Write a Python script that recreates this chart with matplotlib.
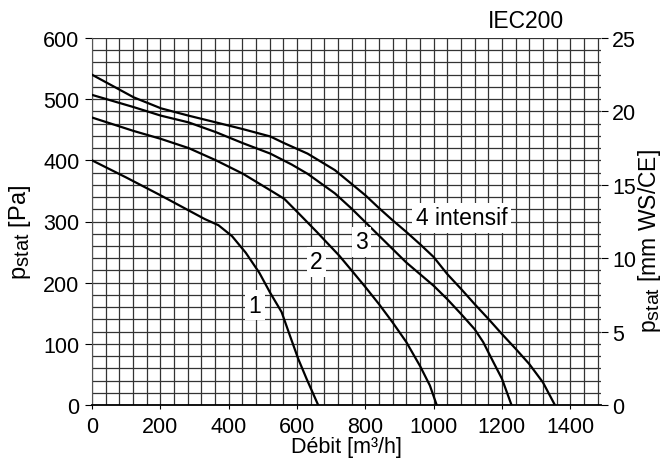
import matplotlib
matplotlib.use("Agg")
import matplotlib.pyplot as plt
import matplotlib._mathtext as mathtext_mod
import numpy as np

plt.rcParams.update({'font.family': ['Liberation Sans', 'DejaVu Sans'],
                     'font.size': 15.5,
                     'mathtext.fontset': 'custom',
                     'mathtext.rm': 'Liberation Sans',
                     'mathtext.it': 'Liberation Sans:italic'})
# the subscripts in the original are only slightly smaller than the text
mathtext_mod.SHRINK_FACTOR = 0.85

# curve points: flow [m3/h], static pressure [Pa]
x1 = [0, 100, 200, 280, 330, 370, 410, 450, 490, 521, 555, 579, 604, 628, 662]
y1 = [400, 372, 343, 319, 304, 294, 276, 249, 216, 184, 152, 114, 75, 43, 0]

x2 = [0, 122, 202, 283, 363, 442, 522, 563, 609, 658, 724, 760, 800, 840, 880, 920, 960, 989, 1009]
y2 = [470, 448, 435, 420, 400, 378, 351, 337, 311, 283, 244, 220, 193, 165, 135, 103, 64, 32, 0]

x3 = [0, 122, 202, 283, 363, 442, 522, 585, 631, 711, 760, 800, 840, 880, 920, 960, 1000,
      1040, 1080, 1120, 1145, 1175, 1200, 1228]
y3 = [507, 487, 473, 462, 446, 428, 411, 393, 378, 346, 321, 299, 277, 255, 233, 214, 195,
      173, 149, 124, 103, 70, 43, 0]

x4 = [0, 122, 202, 283, 363, 442, 522, 563, 631, 711, 800, 840, 880, 920, 960, 1000, 1040,
      1080, 1120, 1160, 1200, 1240, 1280, 1320, 1355]
y4 = [540, 503, 485, 473, 462, 451, 439, 428, 411, 384, 343, 322, 302, 283, 263, 242, 214,
      190, 165, 141, 116, 92, 67, 37, 0]

labels = ["1", "2", "3", "4 intensif"]
label_x = [477, 657, 789, 1082]
label_y = [163, 234, 267, 306]

xticks = [0, 200, 400, 600, 800, 1000, 1200, 1400]
yticks = [0, 100, 200, 300, 400, 500, 600]
yticks_mm = [0, 5, 10, 15, 20, 25]

fig = plt.figure(figsize=(6.64, 4.64), dpi=100)
ax = fig.add_axes([92/664, 58/464, (601-92)/664, (406-39)/464])

for xs, ys in [(x1, y1), (x2, y2), (x3, y3), (x4, y4)]:
    ax.plot(xs, ys, color='black', lw=1.6, zorder=3)

for t, lx, ly in zip(labels, label_x, label_y):
    ax.text(lx, ly, t, ha='center', va='center', fontsize=16.5, zorder=4,
            bbox=dict(fc='white', ec='none', pad=2.5))

ax.set_xlim(0, 1490)
ax.set_ylim(0, 600)
ax.set_xticks(xticks)
ax.set_yticks(yticks)
ax.set_xticks(np.arange(0, 1490, 40), minor=True)
ax.set_yticks(np.arange(0, 601, 20), minor=True)
ax.grid(which='both', color='#333333', lw=0.9)
ax.set_axisbelow(True)
ax.tick_params(which='minor', length=0)
ax.tick_params(axis='x', which='major', length=3, direction='out', pad=5)
ax.tick_params(axis='y', which='major', length=5, direction='out', pad=4)
for s in ['top', 'right']:
    ax.spines[s].set_visible(False)
ax.spines['left'].set_color('#555555')
ax.spines['bottom'].set_linewidth(1.3)

ax.set_xlabel('Débit [m³/h]')
ax.xaxis.set_label_coords(0.5, -0.085)
ax.set_ylabel(r'p$_{\mathrm{stat}}$ [Pa]', fontsize=17)
ax.yaxis.set_label_coords(-0.116, 0.474)

ax2 = ax.twinx()
ax2.set_ylim(0, 25)
ax2.set_yticks(yticks_mm)
ax2.tick_params(axis='y', length=5, direction='out', pad=3)
for s in ax2.spines.values():
    s.set_visible(False)
ax2.set_ylabel(r'p$_{\mathrm{stat}}$ [mm WS/CE]', fontsize=16.5)
ax2.yaxis.set_label_coords(1.068, 0.45)

fig.text(564/664, 1 - 28/464, 'IEC200', ha='right', va='baseline', fontsize=16.5)

fig.savefig('out.png', dpi=100)
